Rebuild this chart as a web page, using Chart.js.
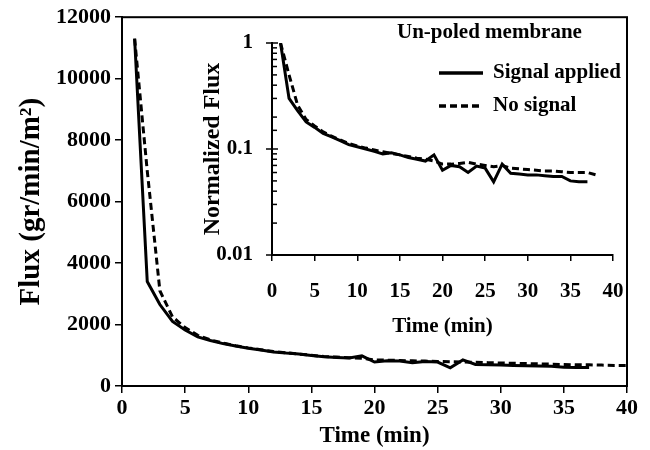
<!DOCTYPE html>
<html lang="en">
<head>
    <meta charset="UTF-8">
    <title>Flux vs time</title>
    <script src="https://cdn.jsdelivr.net/npm/chart.js@4.4.1/dist/chart.umd.min.js"></script>
    <style>
        body { margin: 0; background: #fff; }
        #wrap { position: relative; width: 650px; height: 450px; }
        #main { position: absolute; left: 0; top: 0; }
        #inset { position: absolute; left: 190px; top: 20px; }
    </style>
</head>
<body>
<div id="wrap">
    <canvas id="main" width="650" height="450"></canvas>
    <canvas id="inset" width="440" height="320"></canvas>
</div>
<script>
    // main plot: flux (gr/min/m2) against time (min)
    timeApplied = [1,2,3,4,5,6,7,8,9,10,11,12,13,14,15,16,17,18,19,20,21,22,23,24,25,26,27,28,29,30,31,32,33,34,35,36,37];
    fluxApplied = [11300,3400,2650,2100,1820,1600,1480,1380,1300,1230,1170,1110,1070,1040,990,950,930,910,980,780,820,810,760,800,780,590,850,700,690,680,670,660,650,640,610,600,600];
    timeNoSignal = [1,2,3,4,5,6,7,8,9,10,11,12,13,14,15,16,17,18,19,20,21,22,23,24,25,26,27,28,29,30,31,32,33,34,35,36,37,38,39,40];
    fluxNoSignal = [11300,7000,3100,2250,1900,1650,1500,1400,1310,1240,1180,1120,1080,1040,1000,960,940,920,900,850,840,830,820,810,800,790,780,770,760,750,740,730,720,710,700,690,690,680,670,670];

    // inset: normalized flux, log scale
    normTimeApplied = [1,2,3,4,5,6,7,8,9,10,11,12,13,14,15,16,17,18,19,20,21,22,23,24,25,26,27,28,29,30,31,32,33,34,35,36,37];
    normApplied = [1.0,0.30,0.23,0.18,0.16,0.14,0.13,0.12,0.11,0.105,0.10,0.095,0.09,0.092,0.088,0.083,0.08,0.077,0.088,0.063,0.07,0.068,0.06,0.069,0.066,0.049,0.072,0.059,0.058,0.057,0.057,0.056,0.055,0.055,0.05,0.049,0.049];
    normTimeNoSignal = [1,2,3,4,5,6,7,8,9,10,11,12,13,14,15,16,17,18,19,20,21,22,23,24,25,26,27,28,29,30,31,32,33,34,35,36,37,38];
    normNoSignal = [1.0,0.5,0.26,0.19,0.165,0.145,0.132,0.122,0.113,0.107,0.102,0.098,0.094,0.091,0.088,0.085,0.082,0.08,0.077,0.072,0.072,0.073,0.075,0.072,0.07,0.068,0.07,0.066,0.065,0.064,0.063,0.062,0.062,0.061,0.06,0.06,0.06,0.057];

    xTicks = [0,5,10,15,20,25,30,35,40];
    fluxTicks = [0,2000,4000,6000,8000,10000,12000];
    normLabels = [0.01,0.1,1];

    seriesNames = ['Signal applied','No signal'];
    legendTitle = 'Un-poled membrane';

    var serif = "'Liberation Serif', 'Times New Roman', serif";
    var dash = [7,4];

    function points(xs, ys){
        return xs.map((x,i)=>({x:x, y:ys[i]}));
    }

    // box round the main plot area
    var framePlugin = {
        id: 'frame',
        afterDraw(chart){
            var a = chart.chartArea, ctx = chart.ctx;
            ctx.save();
            ctx.strokeStyle = '#000';
            ctx.lineWidth = 2;
            ctx.strokeRect(a.left, a.top, a.right - a.left, a.bottom - a.top);
            ctx.restore();
        }
    };

    // legend with header, drawn inside the plot
    var legendPlugin = {
        id: 'innerLegend',
        afterDraw(chart){
            var ctx = chart.ctx;
            ctx.save();
            ctx.fillStyle = '#000';
            ctx.font = "bold 21px " + serif;
            ctx.textBaseline = 'middle';
            ctx.textAlign = 'left';
            ctx.fillText(legendTitle, 397, 33);
            var rows = [73, 106];
            chart.data.datasets.forEach((ds,i)=>{
                ctx.strokeStyle = '#000';
                ctx.lineWidth = 3.5;
                ctx.setLineDash(ds.borderDash || []);
                ctx.beginPath();
                ctx.moveTo(439, rows[i]);
                ctx.lineTo(483, rows[i]);
                ctx.stroke();
                ctx.setLineDash([]);
                ctx.fillText(ds.label, 493, rows[i]);
            });
            ctx.restore();
        }
    };

    // log ticks on the inset y axis: majors cross the axis, minors inside
    var logTickPlugin = {
        id: 'logTicks',
        afterDraw(chart){
            var s = chart.scales.y, ctx = chart.ctx, x0 = chart.chartArea.left;
            ctx.save();
            ctx.strokeStyle = '#000';
            ctx.lineWidth = 1.5;
            s.ticks.forEach(t=>{
                var y = s.getPixelForValue(t.value);
                var major = normLabels.indexOf(t.value) >= 0;
                ctx.beginPath();
                ctx.moveTo(major ? x0 - 6 : x0, y);
                ctx.lineTo(x0 + (major ? 6 : 5), y);
                ctx.stroke();
            });
            ctx.restore();
        }
    };

    new Chart(document.getElementById('main'), {
        type: 'line',
        data: {
            datasets: [{
                label: seriesNames[0],
                data: points(timeApplied, fluxApplied),
                borderColor: '#000',
                borderWidth: 3,
                pointRadius: 0,
                tension: 0
            },{
                label: seriesNames[1],
                data: points(timeNoSignal, fluxNoSignal),
                borderColor: '#000',
                borderWidth: 3,
                borderDash: dash,
                pointRadius: 0,
                tension: 0
            }]
        },
        options: {
            responsive: false,
            animation: false,
            layout: { padding: { left: 0, right: 23, top: 17, bottom: 0 } },
            plugins: { legend: { display: false }, tooltip: { enabled: false } },
            scales: {
                x: {
                    type: 'linear', min: 0, max: 40,
                    afterBuildTicks: s => { s.ticks = xTicks.map(v=>({value:v})); },
                    afterFit: s => { s.height = 64; },
                    ticks: { color: '#000', padding: 2, maxRotation: 0, font: { family: serif, size: 22, weight: 'bold' } },
                    grid: { drawOnChartArea: false, color: '#000', lineWidth: 1.5, tickLength: 7 },
                    border: { color: '#000', width: 2 },
                    title: { display: true, text: 'Time (min)', color: '#000', padding: 0,
                        font: { family: serif, size: 23, weight: 'bold' } }
                },
                y: {
                    min: 0, max: 12000,
                    afterBuildTicks: s => { s.ticks = fluxTicks.map(v=>({value:v})); },
                    afterFit: s => { s.width = 122; },
                    ticks: { color: '#000', padding: 4, callback: v => String(v),
                        font: { family: serif, size: 22, weight: 'bold' } },
                    grid: { drawOnChartArea: false, color: '#000', lineWidth: 1.5, tickLength: 7 },
                    border: { color: '#000', width: 2 },
                    title: { display: true, text: 'Flux (gr/min/m²)', color: '#000', padding: { top: 14, bottom: 0 },
                        font: { family: serif, size: 29, weight: 'bold' } }
                }
            }
        },
        plugins: [framePlugin, legendPlugin]
    });

    new Chart(document.getElementById('inset'), {
        type: 'line',
        data: {
            datasets: [{
                label: seriesNames[0],
                data: points(normTimeApplied, normApplied),
                borderColor: '#000',
                borderWidth: 3,
                pointRadius: 0,
                tension: 0
            },{
                label: seriesNames[1],
                data: points(normTimeNoSignal, normNoSignal),
                borderColor: '#000',
                borderWidth: 3,
                borderDash: dash,
                pointRadius: 0,
                tension: 0
            }]
        },
        options: {
            responsive: false,
            animation: false,
            layout: { padding: { left: 0, right: 17, top: 23, bottom: 0 } },
            plugins: { legend: { display: false }, tooltip: { enabled: false } },
            scales: {
                x: {
                    type: 'linear', min: 0, max: 40,
                    afterBuildTicks: s => { s.ticks = xTicks.map(v=>({value:v})); },
                    afterFit: s => { s.height = 85; s.paddingLeft = 0; s.paddingRight = 0; },
                    ticks: { color: '#000', padding: 18, maxRotation: 0, font: { family: serif, size: 21, weight: 'bold' } },
                    grid: { drawOnChartArea: false, color: '#000', lineWidth: 1.5, tickLength: 6 },
                    border: { color: '#000', width: 2 },
                    title: { display: true, text: 'Time (min)', color: '#000', padding: 1,
                        font: { family: serif, size: 21, weight: 'bold' } }
                },
                y: {
                    type: 'logarithmic', min: 0.01, max: 1,
                    afterFit: s => { s.width = 82; s.paddingTop = 0; s.paddingBottom = 0; },
                    ticks: {
                        color: '#000', padding: 19, autoSkip: false,
                        font: { family: serif, size: 21, weight: 'bold' },
                        callback: v => normLabels.indexOf(v) >= 0 ? String(v) : ''
                    },
                    grid: { display: true, drawOnChartArea: false, drawTicks: false },
                    border: { color: '#000', width: 2 },
                    title: { display: true, text: 'Normalized Flux', color: '#000', padding: { top: 8, bottom: 0 },
                        font: { family: serif, size: 24, weight: 'bold' } }
                }
            }
        },
        plugins: [logTickPlugin]
    });
</script>
</body>
</html>
